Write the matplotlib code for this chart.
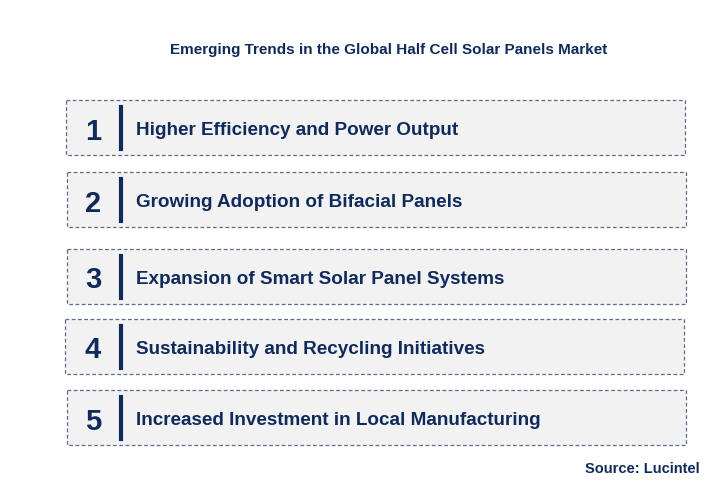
import matplotlib
matplotlib.use("Agg")
import matplotlib.pyplot as plt
from matplotlib.patches import Rectangle

title = "Emerging Trends in the Global Half Cell Solar Panels Market"
numbers = ["1", "2", "3", "4", "5"]
trends = [
    "Higher Efficiency and Power Output",
    "Growing Adoption of Bifacial Panels",
    "Expansion of Smart Solar Panel Systems",
    "Sustainability and Recycling Initiatives",
    "Increased Investment in Local Manufacturing",
]
source = "Source: Lucintel"

W, H = 712, 501
fig = plt.figure(figsize=(W / 100, H / 100), dpi=100)
ax = fig.add_axes([0, 0, 1, 1])
ax.set_xlim(0, W)
ax.set_ylim(H, 0)
ax.axis("off")

navy = "#102a5c"
tops = [100, 172, 249, 319, 390]
lefts = [66, 67, 67, 65, 67]
bh = 55
for i, (n, t) in enumerate(zip(numbers, trends)):
    y0 = tops[i]
    x0 = lefts[i]
    ax.add_patch(Rectangle((x0, y0), 619, bh, facecolor="#f2f2f2",
                           edgecolor="#5a6e8c", linestyle=(0, (3, 2)), linewidth=0.9))
    yc = y0 + bh / 2
    ax.text(93, yc + 4, n, fontsize=21, fontweight="bold", color=navy,
            ha="center", va="center", family="Liberation Sans")
    ax.plot([121, 121], [y0 + 7, y0 + bh - 6], color=navy, linewidth=3)
    ax.text(136, yc + 3, t, fontsize=13.6, fontweight="bold", color=navy,
            ha="left", va="center", family="Liberation Sans")

ax.text(389, 50, title, fontsize=11, fontweight="bold", color=navy,
        ha="center", va="center", family="Liberation Sans")
ax.text(700, 469, source, fontsize=10.5, fontweight="bold", color=navy,
        ha="right", va="center", family="Liberation Sans")

fig.savefig("out.png", dpi=100)
